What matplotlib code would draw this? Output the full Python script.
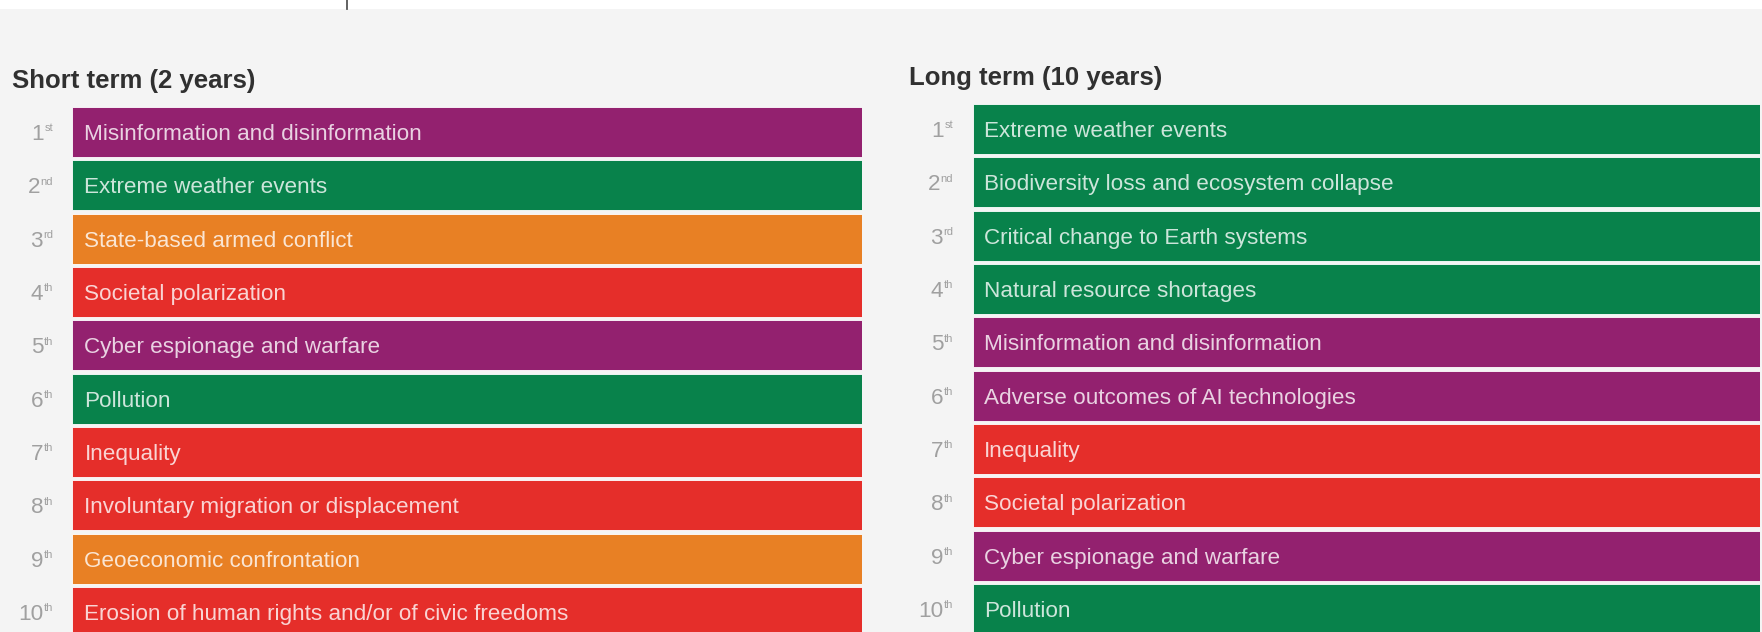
import matplotlib
matplotlib.use('Agg')
import matplotlib.pyplot as plt
from matplotlib.patches import Rectangle
from matplotlib.lines import Line2D

plt.rcParams['font.family'] = ['Liberation Sans', 'DejaVu Sans']

# ---------------- data ----------------
rank_numbers = [1, 2, 3, 4, 5, 6, 7, 8, 9, 10]
rank_suffixes = ['st', 'nd', 'rd', 'th', 'th', 'th', 'th', 'th', 'th', 'th']

short_term_title = 'Short term (2 years)'
short_term_risks = [
    'Misinformation and disinformation',
    'Extreme weather events',
    'State-based armed conflict',
    'Societal polarization',
    'Cyber espionage and warfare',
    'Pollution',
    'Inequality',
    'Involuntary migration or displacement',
    'Geoeconomic confrontation',
    'Erosion of human rights and/or of civic freedoms',
]
short_term_categories = [
    'Technological', 'Environmental', 'Geopolitical', 'Societal', 'Technological',
    'Environmental', 'Societal', 'Societal', 'Geopolitical', 'Societal',
]

long_term_title = 'Long term (10 years)'
long_term_risks = [
    'Extreme weather events',
    'Biodiversity loss and ecosystem collapse',
    'Critical change to Earth systems',
    'Natural resource shortages',
    'Misinformation and disinformation',
    'Adverse outcomes of AI technologies',
    'Inequality',
    'Societal polarization',
    'Cyber espionage and warfare',
    'Pollution',
]
long_term_categories = [
    'Environmental', 'Environmental', 'Environmental', 'Environmental', 'Technological',
    'Technological', 'Societal', 'Societal', 'Technological', 'Environmental',
]

category_colors = {
    'Technological': '#93216f',
    'Environmental': '#08824b',
    'Geopolitical': '#e88024',
    'Societal': '#e52e2a',
}

# ---------------- figure ----------------
W, H = 1762, 632
DPI = 100
PT = 72.0 / DPI  # points per pixel

fig = plt.figure(figsize=(W / DPI, H / DPI), dpi=DPI, facecolor='white')
fig.patches.append(Rectangle((0, 0), 1, 1 - 9 / H, transform=fig.transFigure,
                             facecolor='#f4f4f4', edgecolor='none', zorder=-10))
fig.lines.append(Line2D([347 / W, 347 / W], [1, 1 - 9 / H], transform=fig.transFigure,
                        color='#555555', lw=1.3))

pitch = 53.33  # px per row
LABEL_FS = 16.2
CAP = 0.716 * LABEL_FS  # cap height in points


def draw_panel(left_px, right_px, first_top_px, risks, cats, title, title_x_px, title_y_px,
               label_pad_px, rank_gap_px):
    bar_h = 50.0 / pitch
    first_center = first_top_px + 25.0
    axes_top = first_center - pitch / 2
    axes_h = pitch * 10
    rect = [left_px / W, 1 - (axes_top + axes_h) / H, (right_px - left_px) / W, axes_h / H]
    ax = fig.add_axes(rect)
    ax.set_facecolor('none')
    colors = [category_colors[c] for c in cats]
    ax.barh(rank_numbers, [1] * len(risks), height=bar_h, left=0, color=colors,
            edgecolor='white', linewidth=0.6)
    ax.set_xlim(0, 1)
    ax.set_ylim(10.5, 0.5)
    ax.axis('off')
    tr = ax.get_yaxis_transform()
    for rank, suffix, name in zip(rank_numbers, rank_suffixes, risks):
        ax.annotate(name, xy=(0, rank), xycoords=tr,
                    xytext=(label_pad_px * PT, -CAP / 2), textcoords='offset points',
                    ha='left', va='baseline', fontsize=LABEL_FS, color='white', alpha=0.8,
                    annotation_clip=False)
        suf = ax.annotate(suffix, xy=(0, rank), xycoords=tr,
                          xytext=(-rank_gap_px * PT, CAP / 2 + 0.5), textcoords='offset points',
                          ha='right', va='top', fontsize=8, color='#a0a0a0',
                          annotation_clip=False)
        # number: right edge at left of the suffix, digits centred on the bar
        ax.annotate(str(rank),
                    xy=(0, rank), xycoords=(suf, tr),
                    xytext=(-0.3, -CAP / 2), textcoords='offset points',
                    ha='right', va='baseline', fontsize=LABEL_FS, color='#a0a0a0',
                    annotation_clip=False)
    fig.text(title_x_px / W, 1 - title_y_px / H, title, ha='left', va='center',
             fontsize=18.5, fontweight='bold', color='#303030')
    return ax


draw_panel(72, 862, 107, short_term_risks, short_term_categories, short_term_title,
           12, 81, 12.5, 19)
draw_panel(973, 1760, 104, long_term_risks, long_term_categories, long_term_title,
           909, 78, 11, 20)

fig.savefig('out.png', dpi=DPI, facecolor='white')
